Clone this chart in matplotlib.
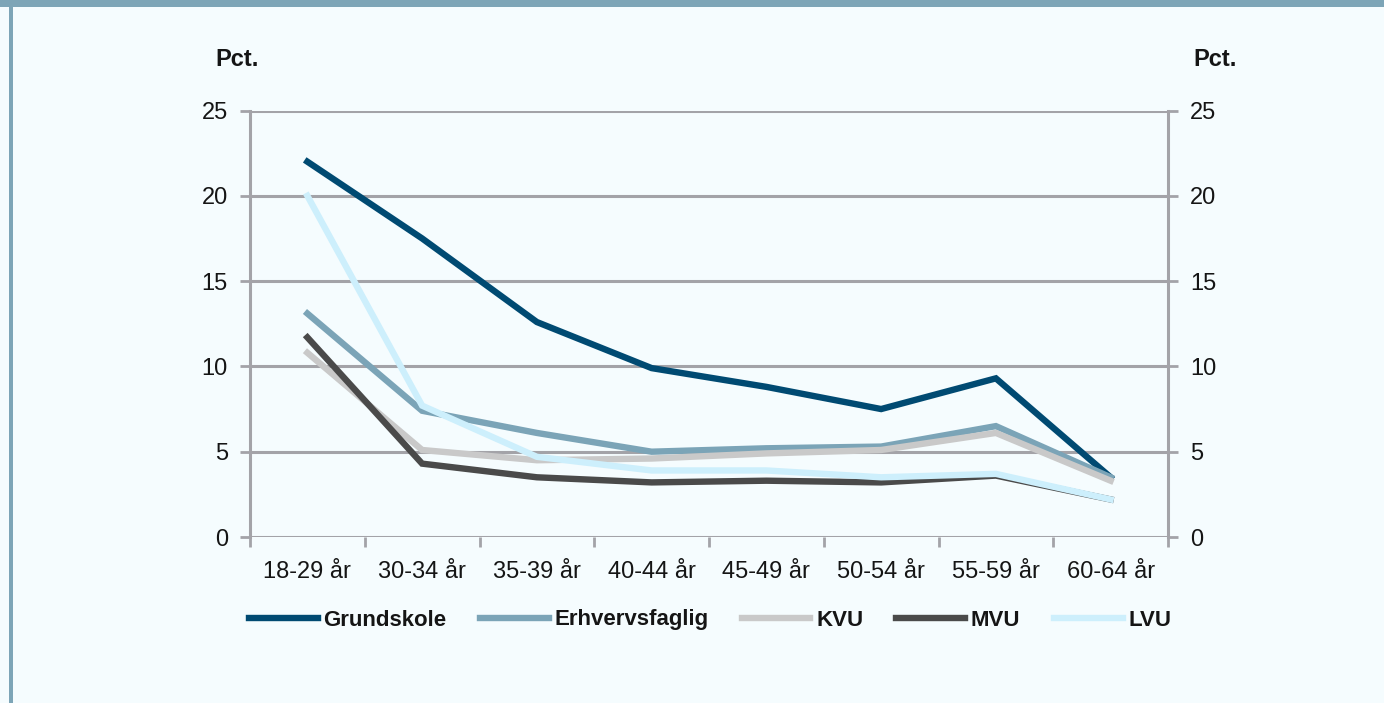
import matplotlib
matplotlib.use("Agg")
import matplotlib.pyplot as plt
from matplotlib import font_manager
from matplotlib.patches import Rectangle
import numpy as np

categories = ["18-29 år", "30-34 år", "35-39 år", "40-44 år", "45-49 år", "50-54 år", "55-59 år", "60-64 år"]
grundskole = [22.0, 17.5, 12.6, 9.9, 8.8, 7.5, 9.3, 3.5]
erhvervsfaglig = [13.1, 7.4, 6.1, 5.0, 5.2, 5.3, 6.5, 3.5]
kvu = [10.8, 5.1, 4.5, 4.6, 4.9, 5.1, 6.1, 3.3]
mvu = [11.7, 4.3, 3.5, 3.2, 3.3, 3.2, 3.6, 2.2]
lvu = [20.0, 7.7, 4.7, 3.9, 3.9, 3.5, 3.7, 2.2]
series_names = ["Grundskole", "Erhvervsfaglig", "KVU", "MVU", "LVU"]
series_values = [grundskole, erhvervsfaglig, kvu, mvu, lvu]
series_colors = ["#004A72", "#7BA4B7", "#C9C9C9", "#4A4A4A", "#CDEFFC"]
yticks = [0, 5, 10, 15, 20, 25]

avail = {f.name for f in font_manager.fontManager.ttflist}
fam = ["Liberation Sans Narrow", "Liberation Sans", "DejaVu Sans"]
fam = [f for f in fam if f in avail] or ["DejaVu Sans"]
plt.rcParams["font.family"] = fam

bg = "#F5FCFE"
grid_c = "#A3A3A8"
txt_c = "#151515"
fig = plt.figure(figsize=(13.84, 7.03), dpi=100, facecolor=bg)

# frame decorations
fig.patches.append(Rectangle((0, 1 - 7 / 703), 1, 7 / 703, transform=fig.transFigure,
                             facecolor="#7DA5B7", edgecolor="none", zorder=0))
fig.patches.append(Rectangle((9 / 1384, 0), 4 / 1384, 1 - 7 / 703, transform=fig.transFigure,
                             facecolor="#7DA5B7", edgecolor="none", zorder=0))

ax = fig.add_axes([250 / 1384, 1 - 537 / 703, 918 / 1384, (537 - 110.5) / 703])
ax.set_facecolor(bg)
x = np.arange(len(categories)) + 0.5
for name, vals, col in zip(series_names, series_values, series_colors):
    ax.plot(x, vals, color=col, lw=4.6, label=name, solid_joinstyle="miter", zorder=3)

ax.set_xlim(0, len(categories))
ax.set_ylim(0, 25)
ax.set_yticks(yticks)
ax.yaxis.grid(True, color=grid_c, lw=2.2, zorder=1)
ax.set_axisbelow(True)
ax.set_xticks(np.arange(len(categories) + 1))
ax.set_xticklabels([])
ax.set_xticks(x, minor=True)
ax.set_xticklabels(categories, minor=True, fontsize=17, color=txt_c)
ax.tick_params(axis="x", which="minor", length=0, pad=17)
ax.tick_params(axis="x", which="major", length=7, width=2, color=grid_c, direction="out")
ax.tick_params(axis="y", length=7, width=2, color=grid_c, labelsize=17, labelcolor=txt_c, pad=9)
for s in ["top", "bottom"]:
    ax.spines[s].set_visible(False)
for s in ["left", "right"]:
    ax.spines[s].set_color(grid_c)
    ax.spines[s].set_linewidth(2.2)

ax2 = ax.twinx()
ax2.set_ylim(0, 25)
ax2.set_yticks(yticks)
ax2.tick_params(axis="y", length=7, width=2, color=grid_c, labelsize=17, labelcolor=txt_c, pad=9)
for s in ["top", "bottom", "left", "right"]:
    ax2.spines[s].set_visible(False)

fig.text(237 / 1384, 1 - 60 / 703, "Pct.", fontsize=17, fontweight="bold", ha="center", va="center", color=txt_c)
fig.text(1215 / 1384, 1 - 60 / 703, "Pct.", fontsize=17, fontweight="bold", ha="center", va="center", color=txt_c)

leg = ax.legend(loc="center", bbox_to_anchor=(710 / 1384, 1 - 620 / 703), bbox_transform=fig.transFigure,
                ncol=5, frameon=False, handlelength=3.1, handletextpad=0.25,
                columnspacing=1.5, prop={"weight": "bold", "size": 16})
for t in leg.get_texts():
    t.set_color(txt_c)

fig.savefig("out.png", dpi=100, facecolor=bg)
